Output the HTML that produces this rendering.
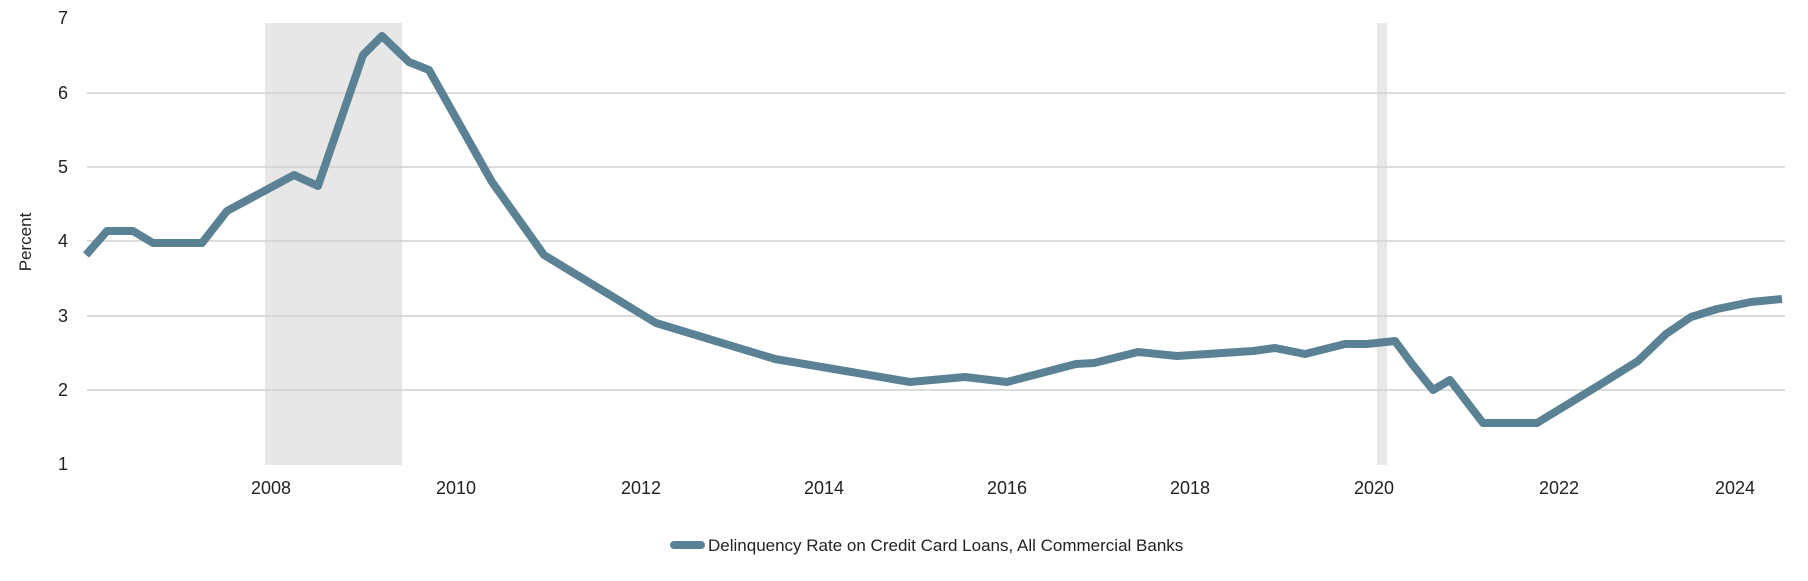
<!DOCTYPE html>
<html><head><style>
html,body{margin:0;padding:0;background:#fff;}
svg text{font-family:"Liberation Sans",sans-serif;fill:#222;}
</style></head><body>
<svg width="1808" height="576" viewBox="0 0 1808 576" xmlns="http://www.w3.org/2000/svg">
<rect x="265" y="23" width="137" height="442" fill="#e6e7e6"/>
<rect x="1377" y="23" width="10" height="442" fill="#e6e7e6"/>
<g stroke="#d0d0d0" stroke-width="1.5">
<line x1="87" x2="1785" y1="93" y2="93"/>
<line x1="87" x2="1785" y1="167" y2="167"/>
<line x1="87" x2="1785" y1="241" y2="241"/>
<line x1="87" x2="1785" y1="316" y2="316"/>
<line x1="87" x2="1785" y1="390" y2="390"/>
</g>
<g font-size="18" text-anchor="middle">
<text x="63" y="24">7</text>
<text x="63" y="99">6</text>
<text x="63" y="173">5</text>
<text x="63" y="247">4</text>
<text x="63" y="322">3</text>
<text x="63" y="396">2</text>
<text x="63" y="470">1</text>
<text x="271" y="494">2008</text>
<text x="456" y="494">2010</text>
<text x="641" y="494">2012</text>
<text x="824" y="494">2014</text>
<text x="1007" y="494">2016</text>
<text x="1190" y="494">2018</text>
<text x="1374" y="494">2020</text>
<text x="1559" y="494">2022</text>
<text x="1735" y="494">2024</text>
</g>
<text transform="translate(31,242) rotate(-90)" font-size="17" text-anchor="middle">Percent</text>
<polyline fill="none" stroke="#5b8294" stroke-width="8" stroke-linejoin="round" points="86,255 107,231 133,231 153,243 202,243 227,211 294,175 318,186 363,55 382,36 409,62 429,70 492,182 544,255 656,323 775,359 910,382 965,377 1007,382 1076,364 1094,363 1138,352 1177,356 1253,351 1275,348 1305,354 1345,344 1367,344 1395,341 1412,364 1433,390 1450,380 1483,423 1537,423 1601,384 1638,361 1666,334 1691,317 1717,309 1751,302 1782,299"/>
<line x1="674" x2="701" y1="545" y2="545" stroke="#5b8294" stroke-width="8" stroke-linecap="round"/>
<text x="708" y="551" font-size="17">Delinquency Rate on Credit Card Loans, All Commercial Banks</text>
</svg>
</body></html>
